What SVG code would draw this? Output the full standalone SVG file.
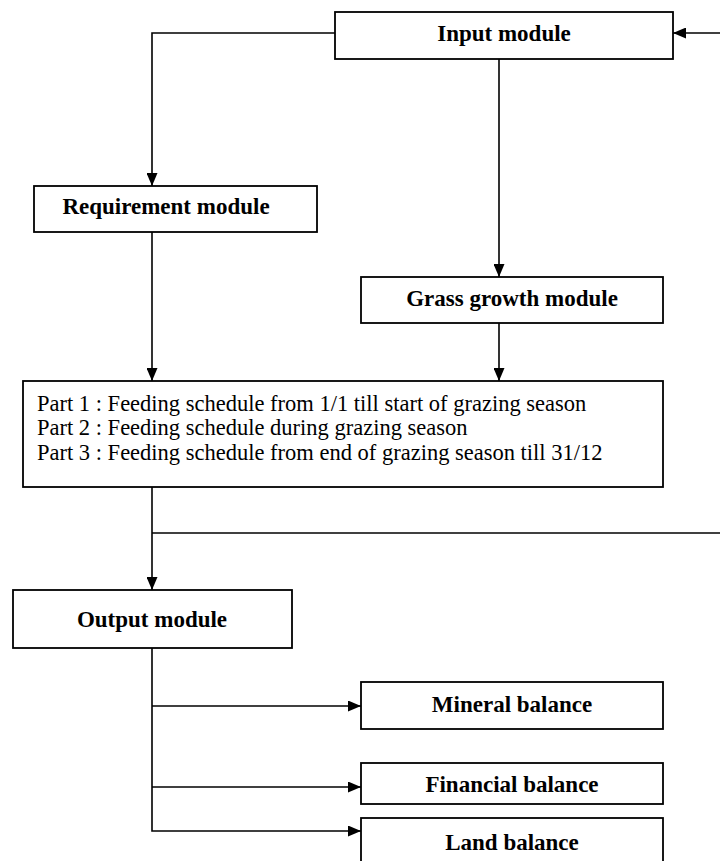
<svg xmlns="http://www.w3.org/2000/svg" width="720" height="861" viewBox="0 0 720 861">
<style>
.box{fill:#fff;stroke:#000;stroke-width:1.8}
.lbl{font-family:"Liberation Serif","Times New Roman",serif;font-weight:bold;font-size:23px;text-anchor:middle;fill:#000}
.txt{font-family:"Liberation Serif","Times New Roman",serif;font-size:22.5px;fill:#000}
.ln{fill:none;stroke:#000;stroke-width:1.6}
</style>
<defs>
<marker id="ah" viewBox="0 0 13 11" refX="13" refY="5.5" markerWidth="13" markerHeight="11" markerUnits="userSpaceOnUse" orient="auto">
<path d="M0,0 L13,5.5 L0,11 Z" fill="#000"/>
</marker>
</defs>
<rect width="720" height="861" fill="#fff"/>
<g id="connectors">
<path class="ln" d="M720,33 H673" marker-end="url(#ah)"/>
<path class="ln" d="M335,33 H152 V186" marker-end="url(#ah)"/>
<path class="ln" d="M499,59 V277" marker-end="url(#ah)"/>
<path class="ln" d="M152,232 V381" marker-end="url(#ah)"/>
<path class="ln" d="M499,323 V381" marker-end="url(#ah)"/>
<path class="ln" d="M152,487 V590" marker-end="url(#ah)"/>
<path class="ln" d="M152,533 H720"/>
<path class="ln" d="M152,648 V831 H361" marker-end="url(#ah)"/>
<path class="ln" d="M152,706 H361" marker-end="url(#ah)"/>
<path class="ln" d="M152,787 H361" marker-end="url(#ah)"/>
</g>
<g id="input">
<rect class="box" x="335" y="12" width="338" height="47"/>
<text class="lbl" x="504" y="41">Input module</text>
</g>
<g id="requirement">
<rect class="box" x="34" y="186" width="283" height="46"/>
<text class="lbl" x="166" y="214">Requirement module</text>
</g>
<g id="grass">
<rect class="box" x="361" y="277" width="302" height="46"/>
<text class="lbl" x="512" y="306">Grass growth module</text>
</g>
<g id="feeding">
<rect class="box" x="23" y="381" width="640" height="106"/>
<text class="txt" x="37" y="411">Part 1 : Feeding schedule from 1/1 till start of grazing season</text>
<text class="txt" x="37" y="435">Part 2 : Feeding schedule during grazing season</text>
<text class="txt" x="37" y="460">Part 3 : Feeding schedule from end of grazing season till 31/12</text>
</g>
<g id="output">
<rect class="box" x="13" y="590" width="279" height="58"/>
<text class="lbl" x="152" y="627">Output module</text>
</g>
<g id="mineral">
<rect class="box" x="361" y="682" width="302" height="47"/>
<text class="lbl" x="512" y="712">Mineral balance</text>
</g>
<g id="financial">
<rect class="box" x="361" y="763" width="302" height="41"/>
<text class="lbl" x="512" y="792">Financial balance</text>
</g>
<g id="land">
<rect class="box" x="361" y="818" width="302" height="60"/>
<text class="lbl" x="512" y="850">Land balance</text>
</g>
</svg>
